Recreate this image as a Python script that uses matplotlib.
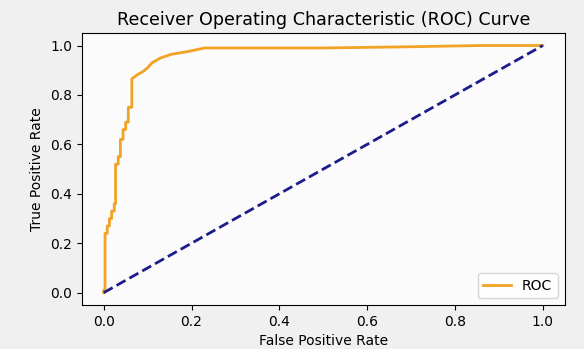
import numpy as np
import matplotlib.pyplot as plt

# ROC curve points
fpr = [0.0, 0.0, 0.003, 0.003, 0.008, 0.008, 0.013, 0.013, 0.018, 0.018, 0.024, 0.024,
       0.027, 0.027, 0.033, 0.033, 0.038, 0.038, 0.044, 0.044, 0.05, 0.05, 0.056, 0.056,
       0.064, 0.064, 0.075, 0.09, 0.1, 0.11, 0.13, 0.155, 0.19, 0.23, 0.5, 0.7, 0.86, 1.0]
tpr = [0.0, 0.01, 0.01, 0.24, 0.24, 0.27, 0.27, 0.30, 0.30, 0.33, 0.33, 0.36,
       0.36, 0.52, 0.52, 0.55, 0.55, 0.62, 0.62, 0.66, 0.66, 0.69, 0.69, 0.75,
       0.75, 0.865, 0.88, 0.895, 0.91, 0.93, 0.95, 0.965, 0.975, 0.99, 0.99, 0.995, 1.0, 1.0]
diag = [0, 1]

fig = plt.figure(figsize=(5.84, 3.49), dpi=100, facecolor='#f0f0f0')
ax = fig.add_axes([0.140, 0.126, 0.827, 0.779])
ax.set_facecolor('#fbfbfb')

ax.plot(fpr, tpr, color='#f2a224', linewidth=2, label='ROC')
ax.plot(diag, diag, color='#1c1c8c', linestyle='--', linewidth=2)
ax.set_xlabel('False Positive Rate')
ax.set_ylabel('True Positive Rate')
ax.set_title('Receiver Operating Characteristic (ROC) Curve', fontsize=12.6)
ax.legend(loc='lower right')

fig.savefig('out.png', dpi=100, facecolor=fig.get_facecolor())
